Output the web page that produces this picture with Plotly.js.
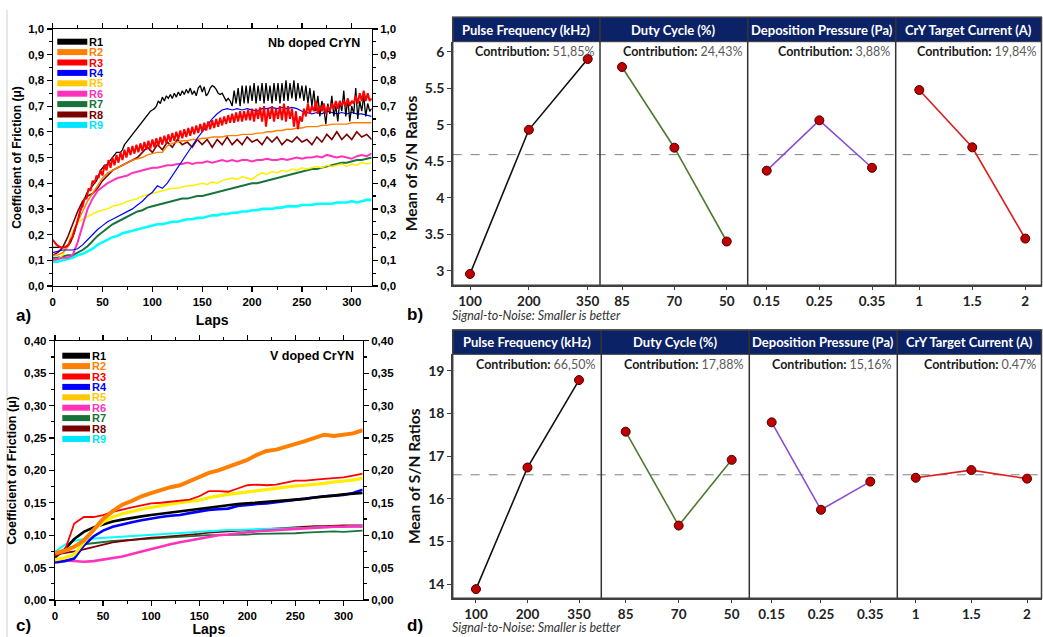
<!DOCTYPE html>
<html><head><meta charset="utf-8">
<script src="https://cdn.plot.ly/plotly-3.0.1.min.js"></script>
<style>html,body{margin:0;padding:0;background:#fff}#chart{width:1043px;height:637px}</style>
</head><body><div id="chart"></div>
<script>
// ================= DATA =================
const seriesNames = ['R1','R2','R3','R4','R5','R6','R7','R8','R9'];
const lineColors  = ['#000000','#ff7f00','#ff0000','#0000ff','#ffee00','#ff33bb','#17733a','#7a0000','#00ffff'];
const legendColors= ['#000000','#ff7f00','#ff0000','#0000ff','#ffc800','#ff33bb','#17733a','#7a0000','#00e5ff'];

// Panel a (Nb doped CrYN) - laps grids
const lapsFine = [0,2,4,6,8,10,12,14,16,18,20,22,24,26,28,30,32,34,36,38,40,42,44,46,48,50,52,54,56,58,60,62,64,66,68,70,72,74,76,78,80,82,84,86,88,90,92,94,96,98,100,102,104,106,108,110,112,114,116,118,120,122,124,126,128,130,132,134,136,138,140,142,144,146,148,150,152,154,156,158,160,162,164,166,168,170,172,174,176,178,180,182,184,186,188,190,192,194,196,198,200,202,204,206,208,210,212,214,216,218,220,222,224,226,228,230,232,234,236,238,240,242,244,246,248,250,252,254,256,258,260,262,264,266,268,270,272,274,276,278,280,282,284,286,288,290,292,294,296,298,300,302,304,306,308,310,312,314,316,318,320];
const lapsA = [0,5,10,15,20,25,30,35,40,45,50,55,60,65,70,75,80,85,90,95,100,105,110,115,120,125,130,135,140,145,150,155,160,165,170,175,180,185,190,195,200,205,210,215,220,225,230,235,240,245,250,255,260,265,270,275,280,285,290,295,300,305,310,315,320];

const nbR1 = [0.15,0.15,0.15,0.15,0.15,0.15,0.15,0.155,
0.16,0.17,0.19,0.21,0.24,0.27,0.30,0.32,
0.34,0.36,0.37,0.38,0.39,0.40,0.41,0.43,
0.45,0.46,0.47,0.47,0.48,0.49,0.50,0.51,
0.52,0.52,0.52,0.53,0.55,0.56,0.57,0.58,
0.59,0.60,0.61,0.62,0.63,0.64,0.65,0.66,
0.67,0.68,0.685,0.69,0.70,0.72,0.71,0.735,
0.72,0.74,0.73,0.745,0.73,0.75,0.735,0.755,
0.74,0.76,0.745,0.765,0.75,0.77,0.745,0.76,
0.74,0.77,0.78,0.755,0.775,0.74,0.75,0.77,
0.78,0.775,0.765,0.75,0.745,0.75,0.735,0.72,
0.73,0.72,0.70,0.76,0.71,0.77,0.70,0.78,
0.71,0.78,0.71,0.78,0.72,0.79,0.71,0.78,
0.72,0.79,0.71,0.79,0.72,0.78,0.71,0.79,
0.72,0.79,0.71,0.79,0.72,0.80,0.72,0.79,
0.73,0.80,0.72,0.79,0.73,0.78,0.72,0.78,
0.71,0.77,0.70,0.76,0.68,0.74,0.66,0.72,
0.69,0.63,0.71,0.67,0.74,0.66,0.70,0.64,
0.72,0.68,0.76,0.66,0.73,0.64,0.70,0.67,
0.77,0.65,0.72,0.68,0.74,0.66,0.71,0.68,
0.69];
const nbR3 = [0.18,0.17,0.16,0.155,0.15,0.15,0.15,0.155,
0.16,0.18,0.19,0.22,0.24,0.27,0.30,0.31,
0.34,0.34,0.38,0.37,0.41,0.40,0.43,0.42,
0.45,0.43,0.47,0.45,0.49,0.46,0.50,0.47,
0.51,0.48,0.52,0.49,0.53,0.50,0.54,0.51,
0.545,0.515,0.55,0.52,0.555,0.525,0.56,0.53,
0.565,0.535,0.57,0.54,0.575,0.545,0.58,0.55,
0.585,0.555,0.59,0.56,0.595,0.565,0.60,0.57,
0.605,0.575,0.61,0.58,0.615,0.585,0.62,0.59,
0.625,0.595,0.63,0.60,0.635,0.605,0.64,0.61,
0.645,0.615,0.65,0.62,0.655,0.625,0.66,0.63,
0.665,0.635,0.67,0.635,0.675,0.64,0.68,0.64,
0.68,0.645,0.685,0.645,0.69,0.64,0.69,0.65,
0.695,0.64,0.70,0.62,0.69,0.65,0.70,0.64,
0.69,0.65,0.70,0.645,0.71,0.64,0.70,0.65,
0.69,0.62,0.68,0.61,0.66,0.64,0.69,0.66,
0.71,0.67,0.70,0.68,0.72,0.67,0.70,0.68,
0.71,0.67,0.70,0.68,0.71,0.69,0.72,0.69,
0.72,0.70,0.72,0.70,0.73,0.70,0.72,0.71,
0.74,0.71,0.75,0.72,0.76,0.72,0.75,0.72,
0.73];
const nbR2 = [0.12,0.12,0.13,0.15,0.20,0.25,0.29,0.33,
0.36,0.39,0.42,0.44,0.45,0.46,0.47,0.48,
0.49,0.495,0.50,0.51,0.515,0.52,0.52,0.545,
0.555,0.56,0.565,0.565,0.57,0.57,0.575,0.575,
0.58,0.58,0.58,0.585,0.585,0.585,0.59,0.59,
0.59,0.595,0.595,0.60,0.60,0.605,0.605,0.61,
0.61,0.615,0.615,0.62,0.62,0.62,0.625,0.625,
0.63,0.63,0.63,0.63,0.635,0.635,0.635,0.635,
0.635];
const nbR4 = [0.13,0.135,0.14,0.14,0.14,0.145,0.16,0.18,
0.20,0.22,0.235,0.25,0.26,0.27,0.28,0.29,
0.30,0.315,0.33,0.35,0.365,0.39,0.38,0.40,
0.43,0.46,0.49,0.52,0.545,0.575,0.60,0.625,
0.65,0.67,0.685,0.69,0.685,0.69,0.685,0.69,
0.685,0.68,0.69,0.69,0.695,0.69,0.695,0.69,
0.695,0.69,0.68,0.675,0.67,0.675,0.67,0.68,
0.675,0.67,0.675,0.67,0.675,0.67,0.67,0.665,
0.66];
const nbR5 = [0.10,0.105,0.12,0.16,0.21,0.245,0.26,0.27,
0.28,0.29,0.295,0.30,0.31,0.315,0.32,0.33,
0.335,0.34,0.35,0.355,0.36,0.365,0.37,0.375,
0.38,0.38,0.385,0.39,0.39,0.395,0.40,0.395,
0.405,0.40,0.41,0.415,0.42,0.415,0.425,0.42,
0.415,0.43,0.44,0.435,0.445,0.44,0.45,0.445,
0.455,0.45,0.46,0.455,0.46,0.465,0.46,0.47,
0.465,0.47,0.475,0.465,0.475,0.47,0.48,0.475,
0.48];
const nbR6 = [0.10,0.105,0.11,0.11,0.12,0.17,0.24,0.30,
0.34,0.37,0.385,0.40,0.41,0.42,0.425,0.43,
0.44,0.445,0.45,0.455,0.46,0.46,0.465,0.47,
0.47,0.475,0.475,0.48,0.475,0.48,0.48,0.485,
0.48,0.485,0.49,0.485,0.49,0.485,0.49,0.49,
0.485,0.49,0.49,0.495,0.49,0.49,0.495,0.49,
0.495,0.50,0.495,0.50,0.50,0.505,0.50,0.51,
0.505,0.50,0.505,0.50,0.495,0.505,0.51,0.505,
0.515];
const nbR7 = [0.11,0.11,0.115,0.12,0.12,0.13,0.14,0.155,
0.175,0.195,0.21,0.225,0.24,0.25,0.26,0.27,
0.28,0.29,0.295,0.305,0.31,0.315,0.32,0.325,
0.33,0.335,0.34,0.34,0.345,0.35,0.35,0.355,
0.36,0.365,0.37,0.375,0.38,0.385,0.39,0.395,
0.40,0.40,0.405,0.41,0.415,0.42,0.425,0.43,
0.435,0.44,0.445,0.45,0.455,0.455,0.46,0.465,
0.47,0.475,0.48,0.48,0.485,0.49,0.49,0.495,
0.50];
const nbR8 = [0.12,0.13,0.15,0.19,0.24,0.29,0.33,0.35,
0.36,0.38,0.41,0.43,0.45,0.46,0.47,0.48,
0.49,0.50,0.52,0.54,0.52,0.55,0.53,0.56,
0.54,0.57,0.55,0.56,0.54,0.57,0.55,0.57,
0.54,0.57,0.55,0.58,0.55,0.57,0.55,0.58,
0.56,0.57,0.55,0.58,0.56,0.58,0.55,0.57,
0.56,0.58,0.56,0.57,0.55,0.58,0.56,0.59,
0.57,0.60,0.57,0.59,0.57,0.60,0.58,0.59,
0.57];
const nbR9 = [0.095,0.095,0.10,0.105,0.11,0.12,0.125,0.135,
0.145,0.16,0.17,0.18,0.19,0.195,0.205,0.21,
0.215,0.22,0.225,0.23,0.235,0.24,0.24,0.245,
0.25,0.25,0.255,0.26,0.26,0.265,0.265,0.27,
0.275,0.275,0.28,0.28,0.285,0.285,0.29,0.29,
0.295,0.295,0.30,0.30,0.30,0.305,0.305,0.31,
0.31,0.31,0.315,0.315,0.315,0.32,0.32,0.32,
0.32,0.325,0.325,0.325,0.33,0.325,0.33,0.335,
0.335];

// Panel c (V doped CrYN)
const lapsC = [0,10,20,30,40,50,60,70,80,90,100,110,120,130,140,150,160,170,180,190,200,210,220,230,240,250,260,270,280,290,300,310,320];
const vR1 = [0.066,0.078,0.094,0.105,0.112,0.117,0.121,0.124,0.127,0.129,0.131,0.133,0.135,0.137,0.139,0.141,0.143,0.145,0.146,0.148,0.149,0.150,0.151,0.152,0.154,0.155,0.156,0.158,0.159,0.161,0.163,0.164,0.165];
const vR2 = [0.072,0.076,0.082,0.092,0.108,0.125,0.137,0.147,0.153,0.160,0.165,0.170,0.174,0.177,0.183,0.190,0.196,0.200,0.205,0.210,0.216,0.224,0.230,0.232,0.236,0.240,0.245,0.250,0.255,0.253,0.255,0.257,0.262];
const vR3 = [0.068,0.075,0.118,0.128,0.128,0.131,0.136,0.140,0.143,0.146,0.149,0.150,0.152,0.153,0.155,0.160,0.168,0.168,0.167,0.172,0.177,0.178,0.177,0.178,0.181,0.184,0.184,0.186,0.187,0.188,0.189,0.192,0.195];
const vR4 = [0.058,0.060,0.064,0.084,0.098,0.107,0.113,0.117,0.120,0.123,0.126,0.128,0.130,0.131,0.134,0.137,0.139,0.140,0.141,0.145,0.147,0.148,0.149,0.151,0.153,0.155,0.157,0.158,0.160,0.161,0.162,0.165,0.170];
const vR5 = [0.062,0.065,0.070,0.090,0.108,0.120,0.128,0.133,0.137,0.140,0.143,0.146,0.148,0.150,0.152,0.154,0.158,0.161,0.163,0.165,0.167,0.169,0.171,0.172,0.174,0.176,0.177,0.178,0.180,0.182,0.183,0.185,0.188];
const vR6 = [0.062,0.061,0.060,0.059,0.060,0.062,0.064,0.067,0.071,0.075,0.079,0.082,0.086,0.089,0.092,0.095,0.098,0.100,0.101,0.103,0.104,0.106,0.107,0.108,0.109,0.110,0.111,0.112,0.112,0.113,0.113,0.114,0.113];
const vR7 = [0.072,0.078,0.083,0.086,0.088,0.089,0.091,0.092,0.093,0.094,0.095,0.096,0.097,0.097,0.098,0.099,0.100,0.100,0.100,0.101,0.101,0.102,0.102,0.102,0.103,0.103,0.104,0.105,0.106,0.106,0.105,0.106,0.107];
const vR8 = [0.070,0.072,0.075,0.078,0.082,0.086,0.089,0.091,0.093,0.095,0.096,0.097,0.098,0.100,0.101,0.102,0.104,0.105,0.106,0.107,0.108,0.109,0.110,0.110,0.111,0.112,0.113,0.114,0.114,0.115,0.115,0.115,0.115];
const vR9 = [0.074,0.085,0.091,0.094,0.095,0.096,0.097,0.098,0.099,0.100,0.101,0.102,0.103,0.104,0.104,0.105,0.106,0.107,0.108,0.108,0.109,0.110,0.110,0.110,0.110,0.111,0.111,0.112,0.112,0.112,0.113,0.113,0.114];

// Tick labels
const lapTicks = [0,50,100,150,200,250,300];
const lapTickText = ['0','50','100','150','200','250','300'];
const cofTicksA = [0,0.1,0.2,0.3,0.4,0.5,0.6,0.7,0.8,0.9,1.0];
const cofTextA = ['0,0','0,1','0,2','0,3','0,4','0,5','0,6','0,7','0,8','0,9','1,0'];
const cofTicksC = [0,0.05,0.10,0.15,0.20,0.25,0.30,0.35,0.40];
const cofTextC = ['0,00','0,05','0,10','0,15','0,20','0,25','0,30','0,35','0,40'];

// Panels b & d (Taguchi main effects, mean of S/N ratios)
const factors = ['Pulse Frequency (kHz)','Duty Cycle (%)','Deposition Pressure (Pa)','CrY Target Current (A)'];
const levelLabels = [['100','200','350'],['85','70','50'],['0.15','0.25','0.35'],['1','1.5','2']];
const factorColors = ['#111111','#4f7a2e','#8a4fd0','#e01b1b'];
const snB_PF = [2.955,4.93,5.90];
const snB_DC = [5.79,4.685,3.40];
const snB_DP = [4.37,5.06,4.41];
const snB_CT = [5.475,4.69,3.44];
const meanB = 4.59;
const contribB = ['51,85%','24,43%','3,88%','19,84%'];
const snD_PF = [13.88,16.73,18.78];
const snD_DC = [17.57,15.37,16.91];
const snD_DP = [17.79,15.74,16.40];
const snD_CT = [16.49,16.67,16.47];
const meanD = 16.56;
const contribD = ['66,50%','17,88%','15,16%','0.47%'];
const snTicksB = [3,3.5,4,4.5,5,5.5,6];
const snTextB = ['3','3.5','4','4.5','5','5.5','6'];
const snTicksD = [14,15,16,17,18,19];
const snTextD = ['14','15','16','17','18','19'];

// ================= LAYOUT HELPERS =================
const W = 1043, H = 637;
const fx = x => x / W, fy = y => 1 - y / H;
const AR = 'Liberation Sans, Arial, sans-serif';
const LT = 'Lato, Open Sans, sans-serif';
const lvlIdx = [0,1,2];

const traces = [];
const shapes = [];
const annotations = [];

// ---- panel a traces ----
const nbY = [nbR1, nbR2, nbR3, nbR4, nbR5, nbR6, nbR7, nbR8, nbR9];
const nbX = [lapsFine, lapsA, lapsFine, lapsA, lapsA, lapsA, lapsA, lapsA, lapsA];
const nbW = [1.3, 1.4, 2.0, 1.2, 1.5, 2.0, 2.0, 1.6, 2.6];
[8,6,4,5,7,1,3,0,2].forEach(i => {
  traces.push({x: nbX[i], y: nbY[i], xaxis:'x', yaxis:'y', mode:'lines', name: seriesNames[i],
    line:{color: lineColors[i], width: nbW[i]}, showlegend:false, hoverinfo:'skip'});
});
traces.push({x:[null], y:[null], xaxis:'x', yaxis:'y2', mode:'lines', showlegend:false, hoverinfo:'skip'});

// ---- panel c traces ----
const vY = [vR1, vR2, vR3, vR4, vR5, vR6, vR7, vR8, vR9];
const vW = [2.6, 4.0, 1.8, 2.6, 3.2, 2.6, 1.8, 1.8, 2.0];
[6,7,8,5,3,0,4,2,1].forEach(i => {
  traces.push({x: lapsC, y: vY[i], xaxis:'x2', yaxis:'y3', mode:'lines', name: seriesNames[i],
    line:{color: lineColors[i], width: vW[i]}, showlegend:false, hoverinfo:'skip'});
});
traces.push({x:[null], y:[null], xaxis:'x2', yaxis:'y4', mode:'lines', showlegend:false, hoverinfo:'skip'});

// ---- panels b/d traces ----
const snB = [snB_PF, snB_DC, snB_DP, snB_CT];
const snD = [snD_PF, snD_DC, snD_DP, snD_CT];
for (let k = 0; k < 4; k++) {
  traces.push({x: lvlIdx, y: snB[k], xaxis:'x'+(3+k), yaxis:'y5', mode:'lines+markers', showlegend:false, hoverinfo:'skip',
    line:{color: factorColors[k], width:1.6}, marker:{color:'#c00000', size:9, line:{color:'#4a0000', width:1}}});
  traces.push({x: lvlIdx, y: snD[k], xaxis:'x'+(7+k), yaxis:'y6', mode:'lines+markers', showlegend:false, hoverinfo:'skip',
    line:{color: factorColors[k], width:1.6}, marker:{color:'#c00000', size:9, line:{color:'#4a0000', width:1}}});
}

// ================= AXES =================
const lapAxisBase = {range:[0,320], tickvals: lapTicks, ticktext: lapTickText, ticks:'outside', ticklen:5, tickwidth:1.2, tickcolor:'#000',
  showline:true, linecolor:'#000', linewidth:1.2, mirror:'ticks', showgrid:false, zeroline:false,
  minor:{tickmode:'linear', tick0:0, dtick:25, ticks:'outside', ticklen:3, tickwidth:1, tickcolor:'#000'},
  tickfont:{family:AR, size:11.5, color:'#000', weight:700}};
const cofAxisBase = {ticks:'outside', ticklen:5, tickwidth:1.2, tickcolor:'#000', showline:true, linecolor:'#000', linewidth:1.2,
  showgrid:false, zeroline:false, tickfont:{family:AR, size:11.5, color:'#000', weight:700}};

const layout = {
  width: W, height: H, margin:{l:0, r:0, t:0, b:0}, paper_bgcolor:'#ffffff', plot_bgcolor:'rgba(0,0,0,0)',
  showlegend:false,
  xaxis: Object.assign({}, lapAxisBase, {domain:[fx(52.7), fx(371.7)], anchor:'y',
    title:{text:'<b>Laps</b>', font:{family:AR, size:14, color:'#000'}, standoff:8}}),
  yaxis: Object.assign({}, cofAxisBase, {domain:[fy(286), fy(29)], range:[0,1], anchor:'x', tickvals:cofTicksA, ticktext:cofTextA,
    minor:{tickmode:'linear', tick0:0, dtick:0.05, ticks:'outside', ticklen:3, tickcolor:'#000'},
    title:{text:'<b>Coefficient of Friction (μ)</b>', font:{family:AR, size:12, color:'#000'}, standoff:4}}),
  yaxis2: Object.assign({}, cofAxisBase, {overlaying:'y', side:'right', anchor:'x', range:[0,1], tickvals:cofTicksA, ticktext:cofTextA,
    minor:{tickmode:'linear', tick0:0, dtick:0.05, ticks:'outside', ticklen:3, tickcolor:'#000'}}),
  xaxis2: Object.assign({}, lapAxisBase, {domain:[fx(55), fx(362.7)], anchor:'y3',
    title:{text:'<b>Laps</b>', font:{family:AR, size:14, color:'#000'}, standoff:8}}),
  yaxis3: Object.assign({}, cofAxisBase, {domain:[fy(600), fy(340.7)], range:[0,0.4], anchor:'x2', tickvals:cofTicksC, ticktext:cofTextC,
    minor:{tickmode:'linear', tick0:0, dtick:0.025, ticks:'outside', ticklen:3, tickcolor:'#000'},
    title:{text:'<b>Coefficient of Friction (μ)</b>', font:{family:AR, size:12.5, color:'#000'}, standoff:4}}),
  yaxis4: Object.assign({}, cofAxisBase, {overlaying:'y3', side:'right', anchor:'x2', range:[0,0.4], tickvals:cofTicksC, ticktext:cofTextC,
    minor:{tickmode:'linear', tick0:0, dtick:0.025, ticks:'outside', ticklen:3, tickcolor:'#000'}}),
  shapes: shapes, annotations: annotations
};

// b/d x axes
const bDomains = [[452.7,600],[600,747.7],[747.7,895.7],[895.7,1041.5]];
const bRanges = [[-0.294,2.209],[-0.42,2.40],[-0.361,2.45],[-0.445,2.306]];
const dDomains = [[452.7,601.3],[601.3,749.3],[749.3,897.3],[897.3,1041.5]];
const dRanges = [[-0.452,2.433],[-0.46,2.332],[-0.454,2.548],[-0.331,2.26]];
const catAxis = (dom, rng, anchor, k) => ({domain:[fx(dom[0]), fx(dom[1])], range:rng, anchor:anchor,
  tickvals: lvlIdx, ticktext: levelLabels[k], ticks:'outside', ticklen:3, tickcolor:'#404040', tickwidth:1,
  showline:true, linecolor:'#404040', linewidth:1.5, showgrid:false, zeroline:false,
  tickfont:{family:LT, size:13.5, color:'#222', weight:700}});
for (let k = 0; k < 4; k++) {
  layout['xaxis'+(3+k)] = catAxis(bDomains[k], bRanges[k], 'y5', k);
  layout['xaxis'+(7+k)] = catAxis(dDomains[k], dRanges[k], 'y6', k);
}
const snAxis = (dom, rng, anchor, tv, tt) => ({domain:dom, range:rng, anchor:anchor, tickvals:tv, ticktext:tt,
  ticks:'outside', ticklen:4, tickcolor:'#404040', showline:true, linecolor:'#404040', linewidth:1.5, showgrid:false, zeroline:false,
  tickfont:{family:LT, size:14, color:'#222', weight:700},
  title:{text:'<b>Mean of S/N Ratios</b>', font:{family:LT, size:15.5, color:'#111'}, standoff:3}});
layout.yaxis5 = snAxis([fy(285.3), fy(41.7)], [2.80, 6.137], 'x3', snTicksB, snTextB);
layout.yaxis6 = snAxis([fy(598.3), fy(354.3)], [13.665, 19.384], 'x7', snTicksD, snTextD);

// ================= SHAPES / ANNOTATIONS =================
shapes.push({type:'line', xref:'paper', yref:'paper', x0:fx(7), x1:fx(7), y0:fy(10), y1:fy(637), line:{color:'#cfcfcf', width:1}});

function effectsPanel(domains, yTop, yHead, yBot, yref, meanVal, contrib) {
  shapes.push({type:'line', xref:'paper', yref:yref, x0:fx(domains[0][0]), x1:fx(domains[3][1]), y0:meanVal, y1:meanVal,
    line:{color:'#808080', width:1, dash:'dash'}, layer:'below'});
  for (let k = 0; k < 4; k++) {
    const d = domains[k];
    shapes.push({type:'rect', xref:'paper', yref:'paper', x0:fx(d[0]), x1:fx(d[1]), y0:fy(yHead), y1:fy(yTop),
      fillcolor:'#0b2366', line:{color:'#3a3a3a', width:1}});
    annotations.push({text:'<b>'+factors[k]+'</b>', xref:'paper', yref:'paper', x:fx((d[0]+d[1])/2), y:fy((yTop+yHead)/2),
      xanchor:'center', yanchor:'middle', showarrow:false, font:{family:LT, size:13, color:'#ffffff'}});
    annotations.push({text:'<b>Contribution:</b> <span style="color:#5a5a5a">'+contrib[k]+'</span>', xref:'paper', yref:'paper',
      x:fx(d[1]-4), y:fy(yHead+10), xanchor:'right', yanchor:'middle', showarrow:false, font:{family:LT, size:12.5, color:'#1a1a1a'}});
    if (k > 0) shapes.push({type:'line', xref:'paper', yref:'paper', x0:fx(d[0]), x1:fx(d[0]), y0:fy(yBot), y1:fy(yTop), line:{color:'#333333', width:1.5}});
  }
  shapes.push({type:'rect', xref:'paper', yref:'paper', x0:fx(domains[0][0]), x1:fx(domains[3][1]), y0:fy(yBot), y1:fy(yTop),
    line:{color:'#404040', width:1.5}, fillcolor:'rgba(0,0,0,0)'});
}
effectsPanel(bDomains, 17.3, 41.7, 285.3, 'y5', meanB, contribB);
effectsPanel(dDomains, 330, 354.3, 598.3, 'y6', meanD, contribD);

// friction legends (drawn as swatches + labels)
function frictionLegend(xs0, xs1, yc0) {
  seriesNames.forEach((n, i) => {
    const yc = yc0 + i * 10.4;
    shapes.push({type:'rect', xref:'paper', yref:'paper', x0:fx(xs0), x1:fx(xs1), y0:fy(yc+3), y1:fy(yc-3),
      fillcolor:legendColors[i], line:{width:0}});
    annotations.push({text:'<b>'+n+'</b>', xref:'paper', yref:'paper', x:fx(xs1+0.5), y:fy(yc), xanchor:'left', yanchor:'middle',
      showarrow:false, borderpad:0, font:{family:AR, size:11, color:legendColors[i]}});
  });
}
frictionLegend(57.3, 87.3, 41.7);
frictionLegend(62.3, 90, 355.7);

const txt = (t, x, y, xa, font) => annotations.push({text:t, xref:'paper', yref:'paper', x:fx(x), y:fy(y), xanchor:xa, yanchor:'middle', showarrow:false, font:font});
txt('<b>Nb doped CrYN</b>', 362, 43.3, 'right', {family:AR, size:12.5, color:'#000'});
txt('<b>V doped CrYN</b>', 356, 355.7, 'right', {family:AR, size:12.5, color:'#000'});
txt('<b>a)</b>', 14, 315, 'left', {family:AR, size:17, color:'#000'});
txt('<b>c)</b>', 14, 625, 'left', {family:AR, size:17, color:'#000'});
txt('<b>b)</b>', 405, 314, 'left', {family:AR, size:17, color:'#000'});
txt('<b>d)</b>', 405, 625, 'left', {family:AR, size:17, color:'#000'});
txt('<i>Signal-to-Noise: Smaller is better</i>', 450, 315, 'left', {family:LT, size:12.5, color:'#333'});
txt('<i>Signal-to-Noise: Smaller is better</i>', 450, 627, 'left', {family:LT, size:12.5, color:'#333'});

Plotly.newPlot('chart', traces, layout, {displayModeBar:false, staticPlot:true});
</script>
</body></html>
